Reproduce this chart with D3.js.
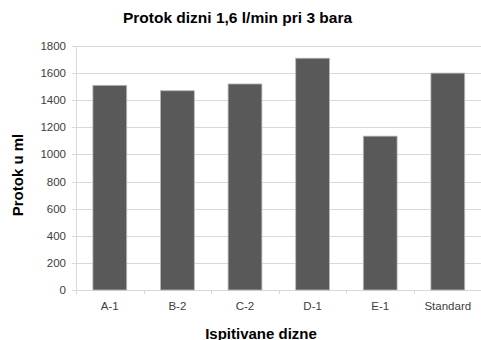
<!DOCTYPE html>
<html><head><meta charset="utf-8">
<script src="https://cdn.jsdelivr.net/npm/d3@7"></script>
<style>body{margin:0;background:#fff}svg{display:block}text{font-family:"Liberation Sans",Arial,sans-serif}</style>
</head><body>
<svg id="c" width="481" height="340"></svg>
<script>
const categories = ["A-1","B-2","C-2","D-1","E-1","Standard"];
const values = [1510, 1470, 1520, 1710, 1135, 1600];
const yTicks = [0,200,400,600,800,1000,1200,1400,1600,1800];
const title = "Protok dizni 1,6 l/min pri 3 bara";
const xTitle = "Ispitivane dizne";
const yTitle = "Protok u ml";

const svg = d3.select("#c");
const L = 76, R = 481.6, T = 46, B = 290;
const x = d3.scaleBand().domain(categories).range([L, R]).paddingInner(0.5).paddingOuter(0.25);
const y = d3.scaleLinear().domain([0, 1800]).range([B, T]);

// gridlines
svg.append("g").selectAll("line").data(yTicks).join("line")
  .attr("x1", L - 4).attr("x2", 481).attr("y1", d => Math.round(y(d)) + 0.5).attr("y2", d => Math.round(y(d)) + 0.5)
  .attr("stroke", "#d9d9d9").attr("stroke-width", 1);
// y axis line
svg.append("line").attr("x1", L + 0.5).attr("x2", L + 0.5).attr("y1", T).attr("y2", B + 4)
  .attr("stroke", "#d9d9d9");
// x ticks at band boundaries
const bounds = d3.range(categories.length + 1).map(i => L + i * x.step());
svg.append("g").selectAll("line").data(bounds).join("line")
  .attr("x1", d => Math.round(d) + 0.5).attr("x2", d => Math.round(d) + 0.5)
  .attr("y1", B).attr("y2", B + 4).attr("stroke", "#d9d9d9");

// bars
svg.append("g").selectAll("rect").data(values).join("rect")
  .attr("x", (d, i) => x(categories[i]))
  .attr("width", x.bandwidth())
  .attr("y", d => y(d))
  .attr("height", d => B - y(d))
  .attr("fill", "#595959").attr("stroke", "#b8b8b8").attr("stroke-width", 0.8);

// y tick labels
svg.append("g").selectAll("text").data(yTicks).join("text")
  .attr("x", 66).attr("y", d => y(d)).attr("dy", "0.35em")
  .attr("text-anchor", "end").attr("font-size", 11.5).attr("fill", "#404040")
  .text(d => d);
// x tick labels
svg.append("g").selectAll("text").data(categories).join("text")
  .attr("x", d => x(d) + x.bandwidth() / 2).attr("y", 310)
  .attr("text-anchor", "middle").attr("font-size", 11.5).attr("fill", "#404040")
  .text(d => d);

// titles
svg.append("text").attr("x", 237.5).attr("y", 23.3).attr("text-anchor", "middle")
  .attr("font-size", 15.5).attr("font-weight", "bold").attr("fill", "#000").text(title);
svg.append("text").attr("x", 261).attr("y", 338.5).attr("text-anchor", "middle")
  .attr("font-size", 15).attr("font-weight", "bold").attr("fill", "#000").text(xTitle);
svg.append("text").attr("transform", "translate(23,175) rotate(-90)").attr("text-anchor", "middle")
  .attr("font-size", 15).attr("font-weight", "bold").attr("fill", "#000").text(yTitle);
</script>
</body></html>
